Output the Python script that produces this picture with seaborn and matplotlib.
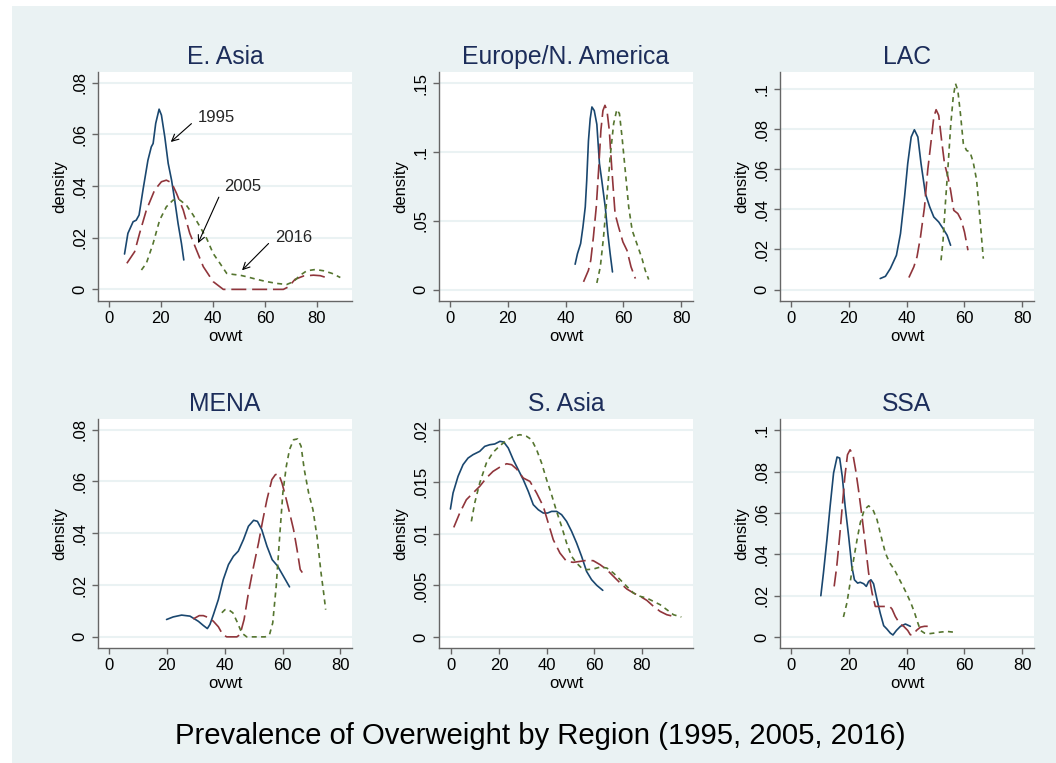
import pandas as pd
import matplotlib.pyplot as plt
import seaborn as sns
from matplotlib.patches import Rectangle

years = ['1995', '2005', '2016']
regions = ['E. Asia', 'Europe/N. America', 'LAC', 'MENA', 'S. Asia', 'SSA']
main_title = 'Prevalence of Overweight by Region (1995, 2005, 2016)'

# E. Asia
ea_95_x = [6.0, 7.3, 9.3, 10.5, 11.6, 13.1, 15.0, 16.3, 17.0, 18.0, 19.3, 20.2, 21.5, 22.8, 24.1, 25.3, 26.6, 27.9, 28.8]
ea_95_y = [0.0137, 0.0217, 0.0262, 0.0268, 0.0288, 0.0385, 0.050, 0.0552, 0.0565, 0.0643, 0.0698, 0.0675, 0.059, 0.0488, 0.0423, 0.0346, 0.0255, 0.0178, 0.0114]
ea_05_x = [6.9, 9.9, 11.8, 14.4, 17.6, 20.2, 22.1, 24.1, 26.0, 28.6, 31.1, 33.7, 36.3, 40.1, 44.0, 50.4, 56.8, 63.3, 67.1, 69.1, 71.6, 74.9, 78.7, 81.3, 84.5]
ea_05_y = [0.0101, 0.0146, 0.0217, 0.0307, 0.0385, 0.0417, 0.0423, 0.0413, 0.0372, 0.0307, 0.0217, 0.0152, 0.0088, 0.003, 0.0, 0.0, 0.0, 0.0, 0.0, 0.001, 0.0039, 0.0052, 0.0055, 0.0053, 0.0043]
ea_16_x = [12.5, 14.4, 17.0, 19.5, 22.1, 24.7, 27.3, 29.8, 32.4, 35.0, 37.6, 40.1, 42.7, 45.3, 47.8, 50.4, 53.0, 56.8, 60.7, 64.6, 68.4, 71.0, 73.6, 76.1, 79.4, 82.6, 85.8, 89.0]
ea_16_y = [0.0075, 0.0101, 0.0178, 0.0268, 0.032, 0.0346, 0.0346, 0.0326, 0.0288, 0.0243, 0.0197, 0.0139, 0.0101, 0.0062, 0.0058, 0.0055, 0.0049, 0.0039, 0.003, 0.0023, 0.0019, 0.003, 0.0055, 0.0072, 0.0077, 0.0072, 0.0062, 0.0046]

# Europe/N. America
eu_95_x = [43.3, 44.1, 45.2, 46.0, 46.8, 47.3, 47.9, 48.5, 49.1, 49.9, 50.8, 51.7, 52.5, 53.7, 54.6, 55.4, 56.2]
eu_95_y = [0.0184, 0.026, 0.0334, 0.0455, 0.060, 0.079, 0.108, 0.124, 0.1326, 0.130, 0.120, 0.0915, 0.0794, 0.060, 0.0406, 0.026, 0.0128]
eu_05_x = [46.2, 47.9, 48.7, 49.6, 50.6, 51.4, 52.2, 52.9, 53.6, 54.3, 55.1, 56.0, 57.1, 58.3, 59.8, 61.2, 62.6, 64.1]
eu_05_y = [0.0056, 0.014, 0.0213, 0.038, 0.060, 0.0866, 0.1157, 0.130, 0.1338, 0.130, 0.1157, 0.0866, 0.055, 0.0455, 0.0346, 0.0285, 0.0165, 0.008]
eu_16_x = [50.8, 52.0, 53.1, 54.3, 55.4, 56.6, 57.7, 58.6, 59.5, 60.6, 61.8, 63.0, 64.6, 66.4, 67.5, 68.7]
eu_16_y = [0.0048, 0.0165, 0.038, 0.0673, 0.0963, 0.1205, 0.1307, 0.1278, 0.1108, 0.0866, 0.060, 0.043, 0.0334, 0.0225, 0.014, 0.0073]

# LAC
lac_95_x = [30.9, 32.7, 34.4, 36.5, 37.9, 39.3, 40.4, 41.6, 42.7, 43.9, 45.0, 46.5, 48.0, 49.4, 51.1, 52.6, 54.0, 55.2]
lac_95_y = [0.0055, 0.0066, 0.0105, 0.0171, 0.0279, 0.0462, 0.0628, 0.0761, 0.0797, 0.0761, 0.0628, 0.0478, 0.0412, 0.0362, 0.0337, 0.0304, 0.0271, 0.0221]
lac_05_x = [40.8, 42.5, 43.6, 44.8, 46.2, 47.3, 48.5, 49.4, 50.2, 51.1, 52.1, 53.1, 54.3, 55.2, 56.3, 57.7, 58.9, 60.0, 61.2]
lac_05_y = [0.006, 0.0113, 0.0163, 0.0262, 0.0412, 0.0595, 0.0744, 0.086, 0.0897, 0.0869, 0.0744, 0.0628, 0.0561, 0.0495, 0.0395, 0.0379, 0.0346, 0.0287, 0.0196]
lac_16_x = [51.9, 52.6, 53.4, 54.3, 55.2, 56.1, 56.9, 57.7, 58.6, 59.6, 60.7, 61.9, 63.0, 64.2, 65.3, 66.5]
lac_16_y = [0.0146, 0.0246, 0.0429, 0.0611, 0.0811, 0.096, 0.1027, 0.0993, 0.0877, 0.0728, 0.0694, 0.0686, 0.0636, 0.0545, 0.0362, 0.0154]

# MENA
mena_95_x = [19.9, 22.2, 25.1, 28.0, 30.9, 32.6, 34.0, 34.9, 36.1, 37.8, 39.5, 41.3, 43.0, 44.7, 46.5, 48.2, 50.0, 51.3, 52.8, 54.6, 56.4, 58.3, 60.3, 62.4]
mena_95_y = [0.0067, 0.0077, 0.0084, 0.008, 0.006, 0.0044, 0.0032, 0.0048, 0.0086, 0.0144, 0.0221, 0.0279, 0.0311, 0.0331, 0.0376, 0.0427, 0.045, 0.0446, 0.0414, 0.035, 0.0298, 0.0273, 0.0234, 0.0193]
mena_05_x = [29.1, 31.2, 32.6, 34.7, 36.1, 37.8, 39.3, 40.7, 42.4, 44.2, 45.3, 46.7, 48.2, 50.0, 51.7, 53.2, 54.6, 56.3, 57.5, 58.6, 59.8, 61.3, 62.7, 63.8, 65.0, 66.1, 66.9]
mena_05_y = [0.0069, 0.0082, 0.0082, 0.0073, 0.006, 0.0039, 0.0009, 0.0, 0.0, 0.0, 0.0009, 0.0067, 0.017, 0.0273, 0.0363, 0.0453, 0.053, 0.0607, 0.0626, 0.063, 0.0594, 0.053, 0.0466, 0.0414, 0.0337, 0.026, 0.0247]
mena_16_x = [39.0, 40.1, 41.3, 42.8, 44.2, 45.9, 47.6, 51.1, 54.0, 55.5, 56.6, 57.8, 59.0, 60.1, 61.3, 62.4, 63.8, 65.2, 66.4, 67.5, 69.0, 70.5, 71.9, 73.3, 74.2, 74.9]
mena_16_y = [0.0093, 0.0105, 0.0105, 0.0093, 0.006, 0.0015, 0.0, 0.0, 0.0, 0.0009, 0.0054, 0.0196, 0.0388, 0.0556, 0.0659, 0.0723, 0.0761, 0.0764, 0.0736, 0.0646, 0.0556, 0.0491, 0.0388, 0.0247, 0.017, 0.0105]

# S. Asia
sa_95_x = [-0.4, 0.7, 2.8, 4.9, 7.0, 9.1, 11.9, 14.0, 16.1, 18.2, 20.4, 22.0, 23.9, 26.0, 28.1, 30.2, 32.3, 34.4, 36.5, 38.6, 40.4, 42.1, 44.2, 46.3, 48.4, 50.5, 52.6, 54.7, 56.8, 58.9, 61.1, 63.6]
sa_95_y = [0.01239, 0.01394, 0.01555, 0.01668, 0.01732, 0.01765, 0.01797, 0.01845, 0.01861, 0.01868, 0.01894, 0.01887, 0.01829, 0.01716, 0.01619, 0.01523, 0.0141, 0.01281, 0.01232, 0.012, 0.012, 0.01216, 0.01216, 0.01184, 0.01119, 0.01023, 0.0091, 0.00781, 0.00635, 0.00555, 0.0050, 0.00452]
sa_05_x = [1.0, 3.5, 6.3, 9.1, 11.9, 14.7, 17.5, 20.4, 23.2, 25.3, 27.4, 30.2, 33.0, 35.8, 38.6, 40.7, 42.8, 45.6, 48.4, 51.2, 54.0, 56.8, 59.6, 62.5, 65.3, 68.1, 70.9, 73.7, 76.5, 79.3, 82.1, 84.9, 87.7, 90.5, 93.3]
sa_05_y = [0.01061, 0.012, 0.01329, 0.01394, 0.01458, 0.01539, 0.01603, 0.01645, 0.01677, 0.01668, 0.01626, 0.01539, 0.01506, 0.01394, 0.01265, 0.01103, 0.00942, 0.00813, 0.00732, 0.00723, 0.00732, 0.00742, 0.00739, 0.007, 0.00652, 0.00587, 0.00523, 0.00465, 0.00426, 0.00394, 0.00355, 0.00297, 0.00248, 0.00216, 0.002]
sa_16_x = [8.4, 9.8, 11.9, 14.7, 17.5, 20.4, 23.2, 26.0, 28.8, 31.6, 33.7, 35.8, 37.9, 40.0, 42.1, 44.2, 46.3, 48.4, 50.5, 52.6, 54.7, 56.8, 59.6, 62.5, 65.3, 68.1, 70.9, 73.7, 76.5, 79.3, 82.1, 84.9, 87.7, 90.5, 93.3, 96.6]
sa_16_y = [0.01119, 0.01297, 0.0149, 0.01684, 0.01787, 0.01852, 0.01903, 0.01942, 0.01958, 0.01942, 0.0191, 0.01813, 0.01684, 0.01523, 0.01377, 0.01216, 0.01071, 0.0091, 0.00781, 0.00716, 0.00668, 0.00652, 0.00658, 0.00677, 0.00668, 0.00619, 0.00555, 0.0049, 0.00426, 0.00394, 0.00377, 0.00345, 0.00313, 0.00265, 0.00216, 0.00194]

# SSA
ssa_95_x = [10.4, 11.3, 12.5, 13.6, 14.8, 16.0, 16.9, 17.8, 18.8, 20.0, 21.1, 22.0, 23.1, 24.0, 25.2, 26.1, 26.9, 27.7, 28.6, 29.8, 30.9, 32.1, 33.2, 34.4, 35.3, 36.5, 37.9, 39.6, 41.3]
ssa_95_y = [0.02, 0.031, 0.0471, 0.0632, 0.0794, 0.0871, 0.0866, 0.0777, 0.0632, 0.0487, 0.0342, 0.0277, 0.0261, 0.0265, 0.0258, 0.0245, 0.0269, 0.0277, 0.0258, 0.0181, 0.0116, 0.0055, 0.0039, 0.0019, 0.001, 0.0032, 0.0052, 0.0063, 0.0052]
ssa_05_x = [15.0, 15.9, 16.9, 17.8, 18.7, 19.6, 20.5, 21.5, 22.4, 23.4, 24.6, 25.7, 26.9, 28.1, 29.2, 30.7, 32.7, 34.2, 35.0, 36.1, 37.6, 39.0, 40.4, 41.3, 42.3, 43.4, 44.8, 46.2, 47.3]
ssa_05_y = [0.0245, 0.0342, 0.0487, 0.0632, 0.0777, 0.0882, 0.0906, 0.0882, 0.081, 0.0713, 0.0584, 0.0455, 0.031, 0.0213, 0.0148, 0.0148, 0.0148, 0.0148, 0.0135, 0.01, 0.0065, 0.0052, 0.0032, 0.0011, 0.0011, 0.0032, 0.0048, 0.0052, 0.0052]
ssa_16_x = [18.2, 19.4, 20.5, 21.7, 22.9, 24.0, 25.4, 26.9, 28.4, 29.8, 31.2, 32.7, 34.2, 35.8, 37.3, 38.8, 40.2, 41.6, 42.8, 43.9, 44.8, 46.2, 47.7, 49.4, 51.7, 54.0, 56.0]
ssa_16_y = [0.0097, 0.0165, 0.0261, 0.0374, 0.0471, 0.0552, 0.0616, 0.0635, 0.0616, 0.0568, 0.0487, 0.0406, 0.0358, 0.0326, 0.0285, 0.0245, 0.0205, 0.0161, 0.0116, 0.0068, 0.0032, 0.0019, 0.0016, 0.0019, 0.0024, 0.0027, 0.0024]

curves = [
    ('E. Asia', '1995', ea_95_x, ea_95_y), ('E. Asia', '2005', ea_05_x, ea_05_y), ('E. Asia', '2016', ea_16_x, ea_16_y),
    ('Europe/N. America', '1995', eu_95_x, eu_95_y), ('Europe/N. America', '2005', eu_05_x, eu_05_y), ('Europe/N. America', '2016', eu_16_x, eu_16_y),
    ('LAC', '1995', lac_95_x, lac_95_y), ('LAC', '2005', lac_05_x, lac_05_y), ('LAC', '2016', lac_16_x, lac_16_y),
    ('MENA', '1995', mena_95_x, mena_95_y), ('MENA', '2005', mena_05_x, mena_05_y), ('MENA', '2016', mena_16_x, mena_16_y),
    ('S. Asia', '1995', sa_95_x, sa_95_y), ('S. Asia', '2005', sa_05_x, sa_05_y), ('S. Asia', '2016', sa_16_x, sa_16_y),
    ('SSA', '1995', ssa_95_x, ssa_95_y), ('SSA', '2005', ssa_05_x, ssa_05_y), ('SSA', '2016', ssa_16_x, ssa_16_y),
]

rows = []
for reg, yr, xs, ys in curves:
    for x, y in zip(xs, ys):
        rows.append((reg, yr, x, y))
df = pd.DataFrame(rows, columns=['region', 'year', 'ovwt', 'density'])

# arrow labels in the E. Asia panel: text position, arrow tip
label_text = ['1995', '2005', '2016']
label_pos = [(34.2, 0.0664), (44.2, 0.0400), (63.8, 0.0202)]
label_tip = [(23.8, 0.0571), (34.3, 0.0179), (51.2, 0.0074)]

# axis layout (Stata look)
W, H = 1056, 763
lefts = [98, 439, 780]
tops = [72, 419]
ax_w, ax_h = 254, 229
xlims = [(-4.2, 93.5), (-3.7, 84.0), (-3.7, 84.0), (-3.8, 84.0), (-5.2, 101.5), (-3.7, 84.0)]
ylims = [(-0.0045, 0.0842), (-0.0083, 0.158), (-0.0057, 0.1085),
         (-0.0043, 0.0841), (-0.00106, 0.0211), (-0.0053, 0.1055)]
yticks = [[0, .02, .04, .06, .08], [0, .05, .1, .15], [0, .02, .04, .06, .08, .1],
          [0, .02, .04, .06, .08], [0, .005, .01, .015, .02], [0, .02, .04, .06, .08, .1]]

palette = {'1995': '#1a476f', '2005': '#90353b', '2016': '#55752f'}
dashes = {'1995': '', '2005': (9, 3.5), '2016': (3, 2.6)}
bg = '#eaf2f3'
axis_col = '#666666'


def stata_fmt(v):
    s = f'{v:g}'
    if s.startswith('0.'):
        s = s[1:]
    return s


sns.set_theme(style='white')
plt.rcParams['font.family'] = ['Liberation Sans', 'DejaVu Sans']

fig = plt.figure(figsize=(W / 100, H / 100), dpi=100, facecolor='white')
fig.patches.append(Rectangle((12 / W, 0), 1 - 12 / W, 1 - 6 / H, transform=fig.transFigure,
                             facecolor=bg, edgecolor='none', zorder=-10))

for i, reg in enumerate(regions):
    r, c = divmod(i, 3)
    ax = fig.add_axes([lefts[c] / W, 1 - (tops[r] + ax_h) / H, ax_w / W, ax_h / H])
    sub = df[df['region'] == reg]
    sns.lineplot(data=sub, x='ovwt', y='density', hue='year', style='year',
                 hue_order=years, style_order=years, palette=palette, dashes=dashes,
                 sort=False, estimator=None, linewidth=1.2, legend=False, ax=ax)
    ax.set_facecolor('white')
    ax.set_xlim(*xlims[i])
    ax.set_ylim(*ylims[i])
    ax.set_xticks([0, 20, 40, 60, 80])
    ax.set_yticks(yticks[i])
    ax.set_yticklabels([stata_fmt(v) for v in yticks[i]])
    ax.yaxis.grid(True, color=bg, linewidth=1.5)
    ax.xaxis.grid(False)
    ax.set_axisbelow(True)
    for s in ['top', 'right']:
        ax.spines[s].set_visible(False)
    for s in ['left', 'bottom']:
        ax.spines[s].set_color(axis_col)
        ax.spines[s].set_linewidth(1.0)
    ax.tick_params(axis='both', which='major', direction='out', length=4.5, width=1.0,
                   color=axis_col, labelsize=12, labelcolor='black', pad=3,
                   bottom=True, left=True)
    ax.tick_params(axis='y', labelrotation=90)
    for lab in ax.get_yticklabels():
        lab.set_va('center')
    ax.set_xlabel('ovwt', fontsize=12, labelpad=2, color='black')
    ax.set_ylabel('density', fontsize=12, labelpad=4, color='black')
    ax.set_title(reg, fontsize=17.8, color='#1c2d5a', pad=6)

    if i == 0:
        for txt, pos, tip in zip(label_text, label_pos, label_tip):
            ax.annotate(txt, xy=tip, xytext=pos, fontsize=12, va='center', ha='left',
                        arrowprops=dict(arrowstyle='->', color='black', lw=0.8,
                                        shrinkA=3, shrinkB=0, relpos=(0, 0.5)))

fig.text(540 / W, (H - 744) / H, main_title, ha='center', va='baseline',
         fontsize=21.1, color='black')

fig.savefig('out.png', dpi=100, facecolor=fig.get_facecolor())
